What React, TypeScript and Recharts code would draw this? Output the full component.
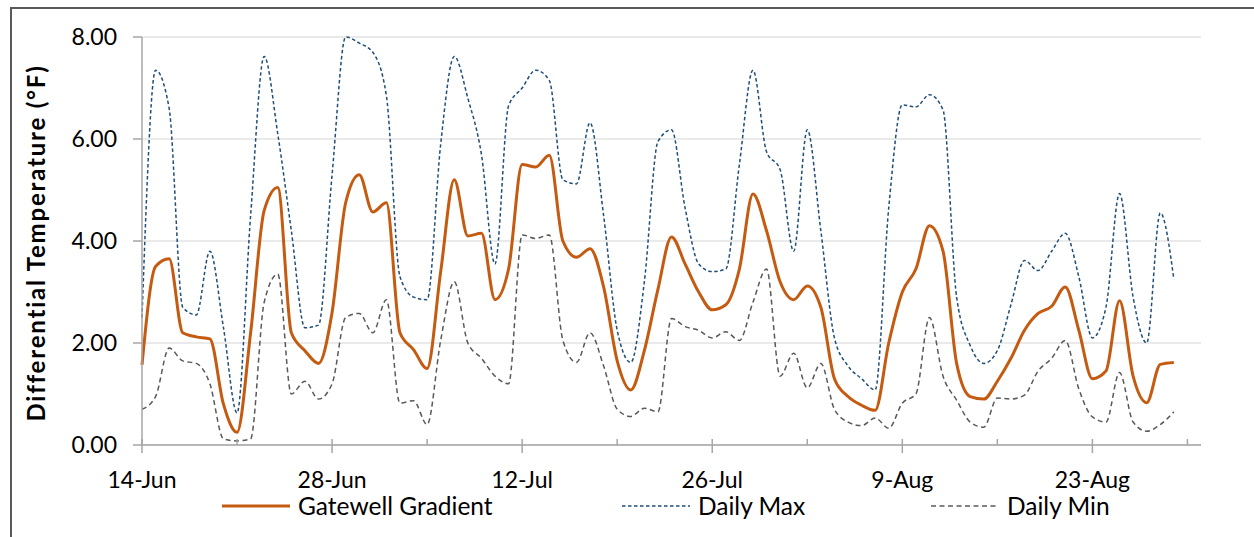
import React from "react";
import { LineChart, Line, XAxis, YAxis, CartesianGrid, Label } from "recharts";

// daily values, 14-Jun .. 29-Aug
const gatewell = [
  1.57, 3.5, 3.65, 2.2, 2.12, 2.08, 0.8, 0.25, 2.2, 4.6, 5.05, 2.2, 1.85, 1.6,
  2.6, 4.75, 5.3, 4.57, 4.75, 2.2, 1.87, 1.5, 3.4, 5.2, 4.1, 4.15, 2.85, 3.45,
  5.5, 5.45, 5.68, 4.0, 3.68, 3.85, 3.1, 1.65, 1.08, 1.85, 3.05, 4.08, 3.55, 3.0,
  2.65, 2.75, 3.45, 4.92, 4.2, 3.2, 2.85, 3.12, 2.7, 1.3, 0.95, 0.78, 0.68, 2.0,
  3.0, 3.45, 4.3, 3.8, 1.6, 0.95, 0.9, 1.25, 1.7, 2.25, 2.58, 2.72, 3.1, 2.25,
  1.3, 1.45, 2.83, 1.35, 0.83, 1.58, 1.62,
];
const dailyMax = [
  2.5, 7.35, 6.6, 2.7, 2.55, 3.8, 2.3, 0.63, 4.5, 7.62, 6.1, 4.2, 2.3, 2.35,
  5.3, 8.0, 7.88, 7.7, 6.85, 3.3, 2.9, 2.85, 5.9, 7.62, 6.8, 5.7, 3.55, 6.65,
  7.0, 7.35, 7.15, 5.2, 5.12, 6.32, 4.5, 2.25, 1.62, 3.2, 5.95, 6.18, 4.65, 3.55,
  3.4, 3.45, 5.5, 7.35, 5.75, 5.4, 3.8, 6.18, 4.2, 2.1, 1.55, 1.3, 1.08, 4.65,
  6.67, 6.63, 6.87, 6.57, 2.9, 1.95, 1.6, 1.85, 2.75, 3.62, 3.42, 3.8, 4.15, 3.3,
  2.1, 2.7, 4.93, 2.9, 2.0, 4.55, 3.25,
];
const dailyMin = [
  0.7, 0.95, 1.9, 1.65, 1.6, 1.2, 0.12, 0.08, 0.12, 2.8, 3.35, 1.0, 1.25, 0.9,
  1.2, 2.5, 2.58, 2.2, 2.85, 0.82, 0.87, 0.4, 2.05, 3.2, 2.0, 1.7, 1.35, 1.2,
  4.12, 4.05, 4.12, 2.05, 1.62, 2.2, 1.55, 0.7, 0.56, 0.72, 0.65, 2.48, 2.32, 2.25,
  2.1, 2.22, 2.05, 2.8, 3.45, 1.35, 1.8, 1.12, 1.6, 0.7, 0.45, 0.38, 0.53, 0.33,
  0.82, 1.0, 2.5, 1.35, 0.88, 0.45, 0.35, 0.92, 0.9, 0.98, 1.45, 1.7, 2.05, 1.1,
  0.55, 0.45, 1.42, 0.45, 0.27, 0.4, 0.65,
];

const tickDays = [0, 14, 28, 42, 56, 70];
const tickLabels = ["14-Jun", "28-Jun", "12-Jul", "26-Jul", "9-Aug", "23-Aug"];
const minorDays = [7, 21, 35, 49, 63, 77];
const yTicks = [0, 2, 4, 6, 8];

const data = gatewell.map((g, i) => ({
  day: i,
  gatewell: g,
  max: dailyMax[i],
  min: dailyMin[i],
}));

const FONT = "Lato, 'Open Sans', sans-serif";
const AXIS = "#A6A6A6";

const DateTick = ({ x, y, payload }: any) => {
  const idx = tickDays.indexOf(payload.value);
  const major = idx >= 0;
  return (
    <g>
      <line x1={x} x2={x} y1={y - 6} y2={major ? y + 8 : y} stroke={AXIS} strokeWidth={1.5} />
      {major && (
        <text x={x} y={y + 43} textAnchor="middle" fontSize={23} fill="#000" fontFamily={FONT}>
          {tickLabels[idx]}
        </text>
      )}
    </g>
  );
};

const LegendItem = ({ color, dash, width, label, left }: any) => (
  <div style={{ position: "absolute", left, top: 491, display: "flex", alignItems: "center" }}>
    <svg width={70} height={10} style={{ marginRight: 7 }}>
      <line x1={1} x2={69} y1={5} y2={5} stroke={color} strokeWidth={width} strokeDasharray={dash} />
    </svg>
    <span style={{ fontSize: 24.5, fontFamily: FONT, color: "#000" }}>{label}</span>
  </div>
);

const App = () => {
  return (
    <div
      style={{
        position: "absolute",
        left: 0,
        top: 0,
        width: 1254,
        height: 537,
        overflow: "hidden",
        background: "#fff",
        fontFamily: FONT,
      }}
    >
      {/* frame */}
      <div
        style={{
          position: "absolute",
          left: 10,
          top: 7,
          width: 1400,
          height: 700,
          borderTop: "2px solid #595959",
          borderLeft: "2px solid #595959",
        }}
      />
      <LineChart
        width={1254}
        height={537}
        data={data}
        margin={{ top: 37, right: 53, left: 0, bottom: 52 }}
        style={{ position: "absolute", left: 0, top: 0 }}
      >
        <CartesianGrid vertical={false} stroke="#E3E3E3" strokeWidth={1.5} />
        <XAxis
          dataKey="day"
          type="number"
          domain={[0, 78]}
          ticks={[...tickDays, ...minorDays].sort((a, b) => a - b)}
          interval={0}
          tick={<DateTick />}
          tickLine={false}
          tickSize={0}
          tickMargin={0}
          height={40}
          axisLine={{ stroke: AXIS, strokeWidth: 1.5 }}
        />
        <YAxis
          domain={[0, 8]}
          ticks={yTicks}
          width={142}
          tickFormatter={(v: number) => v.toFixed(2)}
          tick={{ fill: "#000", fontSize: 23, fontFamily: FONT }}
          tickSize={9}
          tickMargin={16}
          tickLine={{ stroke: AXIS, strokeWidth: 1.5 }}
          axisLine={{ stroke: AXIS, strokeWidth: 1.5 }}
        >
          <Label
            content={() => (
              <text
                x={35}
                y={243}
                transform="rotate(-90 35 243)"
                textAnchor="middle"
                dominantBaseline="central"
                fontSize={24}
                fontWeight="bold"
                letterSpacing={1.8}
                fontFamily={FONT}
                fill="#000"
              >
                Differential Temperature (°F)
              </text>
            )}
          />
        </YAxis>
        <Line
          type="monotone"
          dataKey="max"
          stroke="#1F4E79"
          strokeWidth={1.5}
          strokeDasharray="3.5 2.5"
          dot={false}
          isAnimationActive={false}
        />
        <Line
          type="monotone"
          dataKey="min"
          stroke="#595959"
          strokeWidth={1.5}
          strokeDasharray="5 3.5"
          dot={false}
          isAnimationActive={false}
        />
        <Line
          type="monotone"
          dataKey="gatewell"
          stroke="#C55A11"
          strokeWidth={3}
          dot={false}
          isAnimationActive={false}
        />
      </LineChart>
      <LegendItem color="#C55A11" width={3} label="Gatewell Gradient" left={221} />
      <LegendItem color="#1F4E79" width={1.5} dash="3.5 2.5" label="Daily Max" left={621} />
      <LegendItem color="#595959" width={1.5} dash="5 3.5" label="Daily Min" left={930} />
    </div>
  );
};

export default App;
